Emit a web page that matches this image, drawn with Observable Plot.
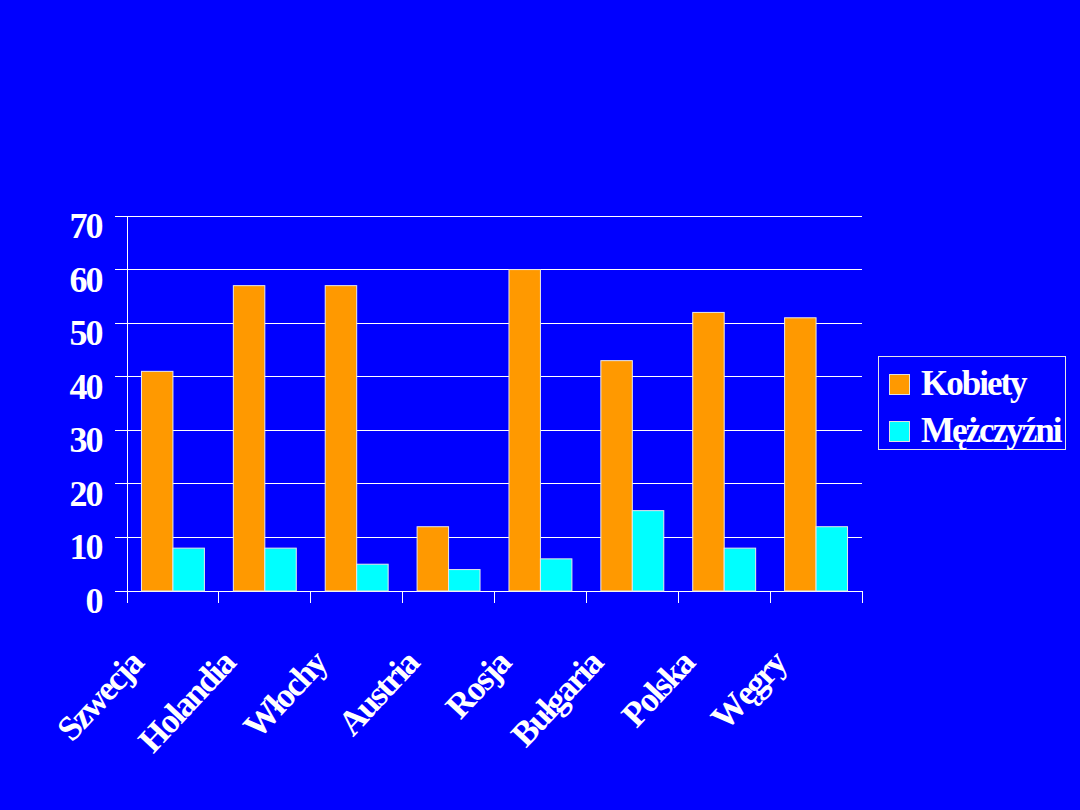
<!DOCTYPE html>
<html>
<head>
<meta charset="utf-8">
<script src="https://cdn.jsdelivr.net/npm/d3@7"></script>
<script src="https://cdn.jsdelivr.net/npm/@observablehq/plot@0.6"></script>
<style>
  html, body { margin: 0; padding: 0; background: #0000ff; }
  #wrap { position: relative; width: 1080px; height: 810px; background: #0000ff; overflow: hidden; }
  .legend { position: absolute; left: 878px; top: 356px; width: 186px; height: 92px;
    border: 1px solid #e6e6e6; box-sizing: content-box;
    font-family: "Liberation Serif", "Times New Roman", serif; font-weight: bold;
    color: #fff; font-size: 35px; letter-spacing: -2px; }
  .item { position: absolute; left: 10px; height: 24px; display: flex; align-items: center; white-space: nowrap; }
  .sw { width: 19px; height: 19px; border: 1px solid #e0e0e0; margin-right: 11px; flex: none; }
</style>
</head>
<body>
<div id="wrap"></div>
<script>
const countries = ["Szwecja", "Holandia", "Włochy", "Austria", "Rosja", "Bułgaria", "Polska", "Węgry"];
const series = ["Kobiety", "Mężczyźni"];
const kobiety = [41, 57, 57, 12, 60, 43, 52, 51];
const mezczyzni = [8, 8, 5, 4, 6, 15, 8, 12];
const yTicks = [0, 10, 20, 30, 40, 50, 60, 70];
const colors = ["#ff9900", "#00ffff"];

const rows = [];
countries.forEach((c, i) => {
  rows.push({country: c, series: series[0], value: kobiety[i]});
  rows.push({country: c, series: series[1], value: mezczyzni[i]});
});

function frameLines(index, scales, values, dims) {
  const y = scales.y, fx = scales.fx;
  const left = dims.marginLeft, right = dims.width - dims.marginRight;
  const g = d3.create("svg:g").attr("stroke", "#ffffff").attr("stroke-width", 1).attr("shape-rendering", "crispEdges");
  for (const t of yTicks) {
    g.append("line").attr("x1", left - 12).attr("x2", right).attr("y1", y(t)).attr("y2", y(t));
  }
  const y0 = y(0), yTop = y(yTicks[yTicks.length - 1]);
  g.append("line").attr("x1", left).attr("x2", left).attr("y1", yTop).attr("y2", y0 + 12);
  const bounds = countries.slice(1).map(c => fx ? fx(c) : null).filter(v => v != null);
  bounds.push(right);
  for (const bx of bounds) {
    g.append("line").attr("x1", bx).attr("x2", bx).attr("y1", y0).attr("y2", y0 + 12);
  }
  return g.node();
}

const chart = Plot.plot({
  width: 1080, height: 810,
  marginLeft: 127, marginRight: 218, marginTop: 216, marginBottom: 219,
  style: {background: "#0000ff", color: "#ffffff", fontFamily: "'Liberation Serif', 'Times New Roman', serif",
          fontWeight: "bold", fontSize: "35px", letterSpacing: "-2px", overflow: "visible"},
  fx: {domain: countries, padding: 0, round: false, label: null, axis: null},
  x: {domain: series, paddingInner: 0, paddingOuter: 0.46, round: false, axis: null},
  y: {domain: [0, 70], axis: null, label: null},
  color: {domain: series, range: colors},
  marks: [
    Plot.frame({facet: "super", stroke: "none", render: frameLines}),
    Plot.barY(rows, {fx: "country", x: "series", y: "value", fill: "series", stroke: "#e8e8e8", strokeWidth: 1}),
    Plot.axisY(yTicks, {tickSize: 0, tickPadding: 26, fontSize: 36, fill: "#ffffff", dy: 10, tickFormat: d => String(d), label: null}),
    Plot.axisFx({anchor: "bottom", tickSize: 0, tickPadding: 0, tickRotate: -47, fontSize: 35, fill: "#ffffff", dx: -37, dy: 66, label: null})
  ]
});

const wrap = document.getElementById("wrap");
wrap.appendChild(chart);

const legend = document.createElement("div");
legend.className = "legend";
series.forEach((s, i) => {
  const it = document.createElement("div");
  it.className = "item";
  it.style.top = (i === 0 ? 15 : 62) + "px";
  const sw = document.createElement("span");
  sw.className = "sw";
  sw.style.background = colors[i];
  const tx = document.createElement("span");
  tx.textContent = s;
  it.appendChild(sw);
  it.appendChild(tx);
  legend.appendChild(it);
});
wrap.appendChild(legend);
</script>
</body>
</html>
